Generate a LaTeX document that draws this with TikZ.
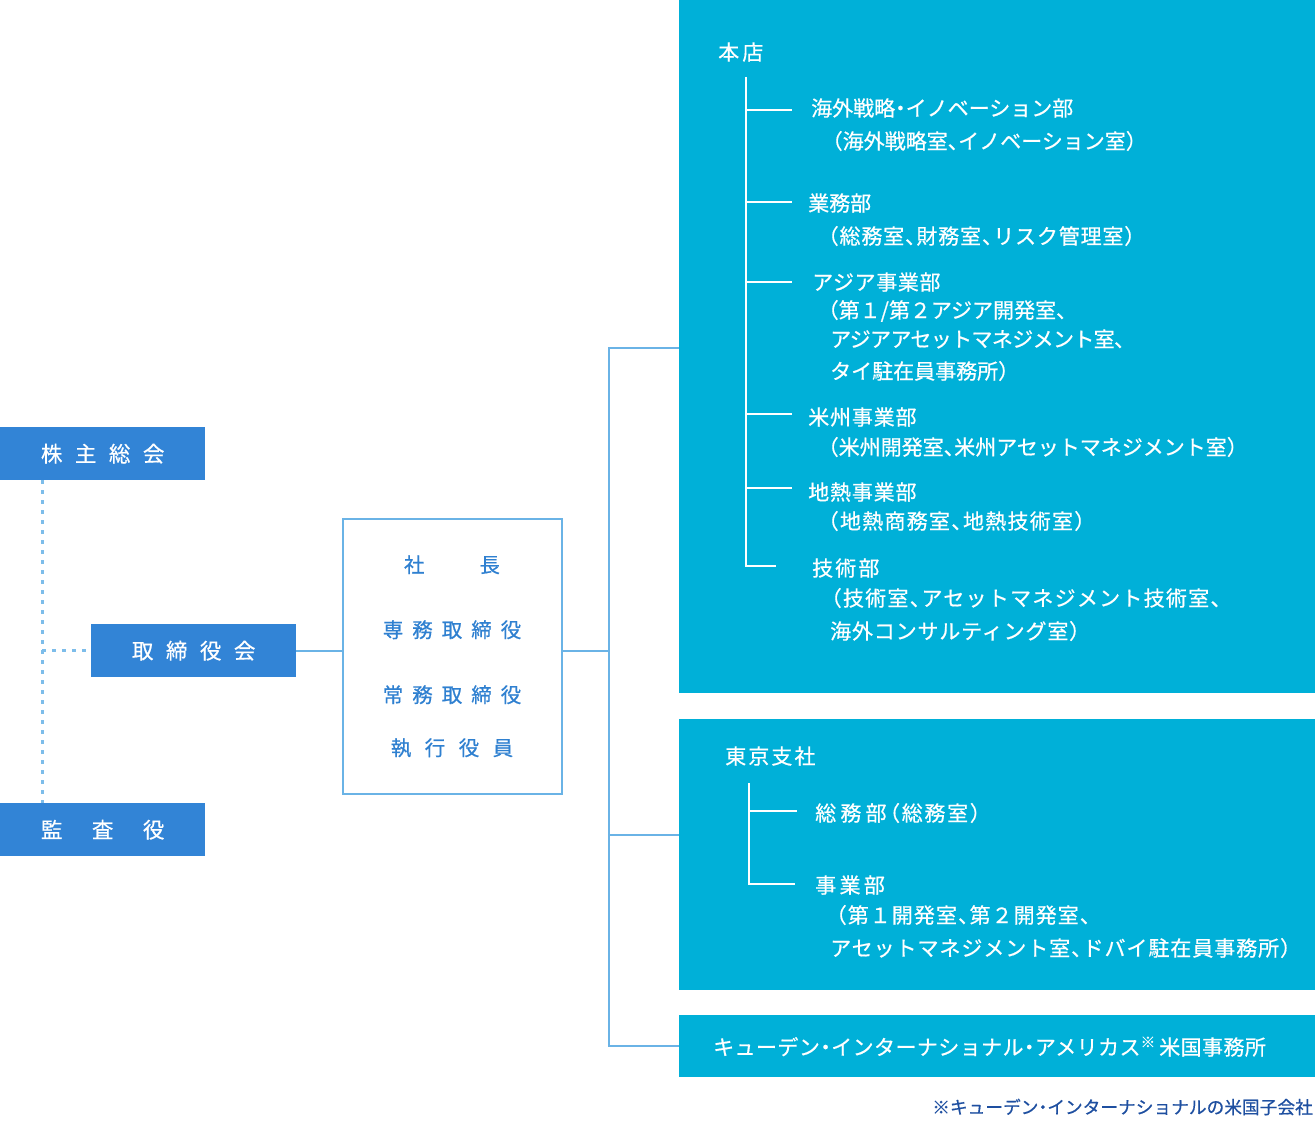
\documentclass[tikz,border=0pt]{standalone}
\usepackage{fontspec}
\setmainfont{Noto Sans CJK JP}[FakeBold=0.6]
\newfontfamily\pfont{Noto Sans CJK JP}[RawFeature=+halt, FakeBold=0.6]
\definecolor{boxblue}{HTML}{3284D6}
\definecolor{cyanfill}{HTML}{00B0D8}
\definecolor{lineblue}{HTML}{6AB3E6}
\definecolor{dotblue}{HTML}{7DBDEA}
\definecolor{txtblue}{HTML}{2F80D0}
\definecolor{notecol}{HTML}{1E4FA0}
\newcommand\lsp[2]{{\addfontfeatures{LetterSpace=#1}#2}}
\begin{document}
\begin{tikzpicture}[x=1pt,y=-1pt,
  bluebox/.style={fill=boxblue, text=white, minimum width=205pt, minimum height=53pt, inner sep=0pt, anchor=north west, font=\fontsize{21.5}{25}\selectfont},
  cyanbox/.style={fill=cyanfill, draw=none, inner sep=0pt, anchor=north west, minimum width=636pt},
  conn/.style={draw=lineblue, line width=2pt},
  dotconn/.style={draw=dotblue, line width=3pt, dash pattern=on 4pt off 6pt},
  tree/.style={draw=white, line width=2pt},
  wt/.style={text=white, anchor=west, inner sep=0pt, font=\pfont\fontsize{21}{25}\selectfont, text height=18pt, text depth=2pt},
  bt/.style={text=txtblue, inner sep=0pt, font=\fontsize{20.5}{24}\selectfont, text height=17pt, text depth=2pt}
]
\useasboundingbox (0,0) rectangle (1315,1121);

% left side boxes
\node[bluebox] (kabu) at (0,427) {株\hspace{12.5pt}主\hspace{12.5pt}総\hspace{12.5pt}会};
\node[bluebox] (tori) at (91,624) {取\hspace{12.5pt}締\hspace{12.5pt}役\hspace{12.5pt}会};
\node[bluebox] (kansa) at (0,803) {監\hspace{29.5pt}査\hspace{29.5pt}役};

% president box
\node[draw=lineblue, line width=2pt, minimum width=219pt, minimum height=275pt, inner sep=0pt, anchor=north west] (pres) at (342,518) {};
\node[bt] (p1) at (452,565) {社\hspace{55pt}長};
\node[bt] (p2) at (452,630) {専\hspace{9pt}務\hspace{9pt}取\hspace{9pt}締\hspace{9pt}役};
\node[bt] (p3) at (452,695) {常\hspace{9pt}務\hspace{9pt}取\hspace{9pt}締\hspace{9pt}役};
\node[bt] (p4) at (452,748) {執\hspace{13.5pt}行\hspace{13.5pt}役\hspace{13.5pt}員};

% cyan boxes
\node[cyanbox, minimum height=693pt] (honten) at (679,0) {};
\node[cyanbox, minimum height=271pt] (tokyo) at (679,719) {};
\node[cyanbox, minimum height=62pt] (amer) at (679,1015) {};

% left connectors
\coordinate (dj) at (42,650);
\draw[dotconn] ([xshift=42pt]kabu.south west) -- ([xshift=42pt]kansa.north west);
\draw[dotconn] (dj) -- (dj -| tori.west);
\coordinate (bus) at (609,651);
\draw[conn] (bus -| tori.east) -- (bus -| pres.west);

% right connectors
\coordinate (btop) at (609,348);
\coordinate (bmid) at (609,835);
\coordinate (bbot) at (609,1046);
\draw[conn] (bus -| pres.east) -- (bus);
\draw[conn] (btop -| honten.west) -- (btop) -- (bbot) -- (bbot -| amer.west);
\draw[conn] (bmid) -- (bmid -| tokyo.west);

% honten content
\node[wt] (hon) at (718,52) {\lsp{15}{本店}};
\coordinate (hv0) at (746,77);
\coordinate (hv1) at (746,110); \coordinate (he1) at (792,110);
\coordinate (hv2) at (746,202); \coordinate (he2) at (792,202);
\coordinate (hv3) at (746,282); \coordinate (he3) at (792,282);
\coordinate (hv4) at (746,414); \coordinate (he4) at (792,414);
\coordinate (hv5) at (746,488); \coordinate (he5) at (792,488);
\coordinate (hv6) at (746,566); \coordinate (he6) at (776,566);
\draw[tree] (hv0) -- (hv6) -- (he6);
\draw[tree] (hv1) -- (he1);
\draw[tree] (hv2) -- (he2);
\draw[tree] (hv3) -- (he3);
\draw[tree] (hv4) -- (he4);
\draw[tree] (hv5) -- (he5);

\node[wt] (h1a) at (811,108) {海外戦略・イノベーション部};
\node[wt] (h1b) at (832,141) {（海外戦略室、イノベーション室）};
\node[wt] (h2a) at (808,203) {業務部};
\node[wt] (h2b) at (828,236) {\lsp{4}{（総務室、財務室、リスク管理室）}};
\node[wt] (h3a) at (812,282) {\lsp{3}{アジア事業部}};
\node[wt] (h3b) at (828,310) {（第１/第２アジア開発室、};
\node[wt] (h3c) at (830,339) {\lsp{-3}{アジアアセットマネジメント室、}};
\node[wt] (h3d) at (830,371) {タイ駐在員事務所）};
\node[wt] (h4a) at (808,417) {\lsp{4}{米州事業部}};
\node[wt] (h4b) at (828,447) {（米州開発室、米州アセットマネジメント室）};
\node[wt] (h5a) at (808,492) {\lsp{4}{地熱事業部}};
\node[wt] (h5b) at (828,521) {\lsp{6}{（地熱商務室、地熱技術室）}};
\node[wt] (h6a) at (812,568) {\lsp{10}{技術部}};
\node[wt] (h6b) at (831,598) {\lsp{6}{（技術室、アセットマネジメント技術室、}};
\node[wt] (h6c) at (830,631) {\lsp{4}{海外コンサルティング室）}};

% tokyo content
\node[wt] (tk) at (725,756) {\lsp{10}{東京支社}};
\coordinate (tv0) at (749,783);
\coordinate (tv1) at (749,811); \coordinate (te1) at (797,811);
\coordinate (tv2) at (749,884); \coordinate (te2) at (795,884);
\draw[tree] (tv0) -- (tv2) -- (te2);
\draw[tree] (tv1) -- (te1);
\node[wt] (t1) at (815,813) {\lsp{20}{総務部}\hspace{3pt}\lsp{8}{（総務室）}};
\node[wt] (t2a) at (815,885) {\lsp{16}{事業部}};
\node[wt] (t2b) at (836,915) {\lsp{5}{（第１開発室、第２開発室、}};
\node[wt] (t2c) at (830,948) {\lsp{4.5}{アセットマネジメント室、ドバイ駐在員事務所）}};

% americas
\node[wt] (am) at (713,1047) {\lsp{2}{キューデン・インターナショナル・アメリカス}\textsuperscript{※}\,\lsp{2}{米国事務所}};

% footnote
\node[text=notecol, anchor=east, inner sep=0pt, font=\pfont\fontsize{17.7}{20}\selectfont] (note) at (1313,1107) {※キューデン・インターナショナルの米国子会社};
\end{tikzpicture}
\end{document}
